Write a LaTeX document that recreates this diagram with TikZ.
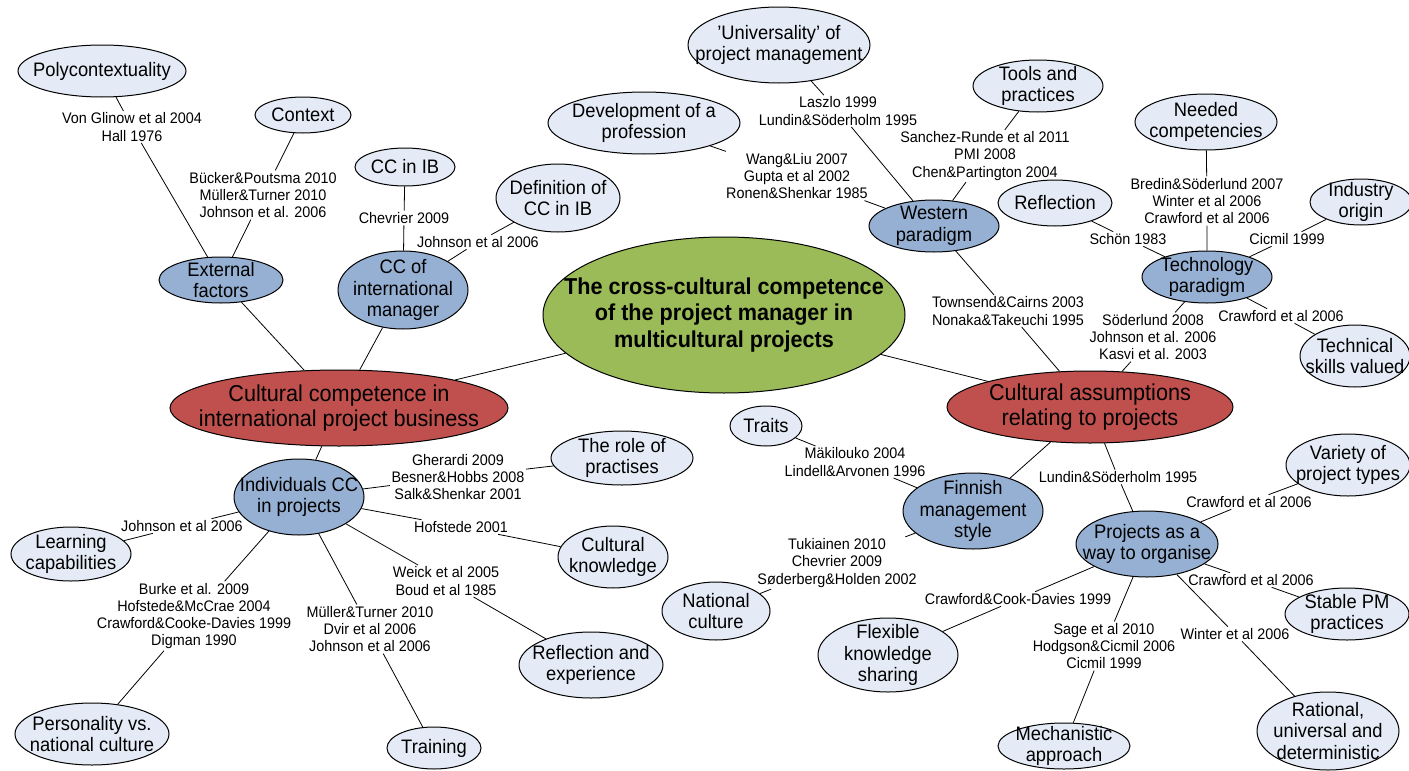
\documentclass[tikz,border=0pt]{standalone}
\usepackage{fontspec}
\setmainfont{Liberation Sans}[FakeStretch=0.94]
\usetikzlibrary{shapes.geometric}
\definecolor{leafc}{HTML}{E4EBF6}
\definecolor{bluec}{HTML}{95B0D2}
\definecolor{redc}{HTML}{C0504D}
\definecolor{greenc}{HTML}{9BBB59}
\tikzset{
 base/.style={ellipse, draw=black, line width=1pt, inner sep=0pt},
 leaf/.style={base, fill=leafc},
 mid/.style={base, fill=bluec},
 topc/.style={base, fill=redc},
 rootc/.style={base, fill=greenc},
 nt/.style={align=center, inner sep=0pt, font=\fontsize{19.5}{21.7}\selectfont},
 rt/.style={align=center, inner sep=0pt, font=\fontsize{23}{25}\selectfont},
 gt/.style={align=center, inner sep=0pt, font=\bfseries\fontsize{23}{26.5}\selectfont},
 cite/.style={align=center, inner sep=1.5pt, font=\fontsize{15.3}{17.3}\selectfont},
 conn/.style={draw=black, line width=0.8pt},
}
\newcommand\bub[7]{\node[#1,minimum width=2*#5pt,minimum height=2*#6pt,label={[#2]center:{#7}}] (#3) at #4 {};}
\begin{document}
\begin{tikzpicture}[x=1pt,y=-1pt]
\useasboundingbox (0,0) rectangle (1409,771);
% root and top level
\bub{rootc}{gt}{main}{(724,315)}{181}{78}{The cross-cultural competence\\of the project manager in\\multicultural projects}
\bub{topc}{rt}{redl}{(339,408)}{169}{38}{Cultural competence in\\international project business}
\bub{topc}{rt}{redr}{(1090,407)}{143}{36}{Cultural assumptions\\relating to projects}
% mid level
\bub{mid}{nt}{ext}{(221,280)}{62}{23}{External\\factors}
\bub{mid}{nt}{ccim}{(403,290)}{65}{39}{CC of\\international\\manager}
\bub{mid}{nt}{west}{(934,226)}{65}{26}{Western\\paradigm}
\bub{mid}{nt}{tech}{(1207,277)}{65}{26}{Technology\\paradigm}
\bub{mid}{nt}{indiv}{(299,497)}{65}{38}{Individuals CC\\in projects}
\bub{mid}{nt}{finn}{(973,511)}{70}{38}{Finnish\\management\\style}
\bub{mid}{nt}{proj}{(1147,544)}{71}{33}{Projects as a\\way to organise}
% leaves
\bub{leaf}{nt}{poly}{(102,71)}{84}{26}{Polycontextuality}
\bub{leaf}{nt}{context}{(303,115)}{48}{18}{Context}
\bub{leaf}{nt}{ccib}{(405,167)}{50}{19}{CC in IB}
\bub{leaf}{nt}{defcc}{(558,198)}{62}{34}{Definition of\\CC in IB}
\bub{leaf}{nt}{univ}{(779,45)}{91}{38}{'Universality' of\\project management}
\bub{leaf}{nt}{devprof}{(644,123)}{96}{31}{Development of a\\profession}
\bub{leaf}{nt}{tools}{(1038,86)}{65}{26}{Tools and\\practices}
\bub{leaf}{nt}{needed}{(1206,122)}{71}{28}{Needed\\competencies}
\bub{leaf}{nt}{refl}{(1055,203)}{57}{23}{Reflection}
\bub{leaf}{nt}{indorig}{(1361,202)}{51}{23}{Industry\\origin}
\bub{leaf}{nt}{techsk}{(1355,356)}{55}{31}{Technical\\skills valued}
\bub{leaf}{nt}{traits}{(766,426)}{36}{20}{Traits}
\bub{leaf}{nt}{role}{(622,458)}{71}{27}{The role of\\practises}
\bub{leaf}{nt}{cultk}{(613,557)}{55}{31}{Cultural\\knowledge}
\bub{leaf}{nt}{reflexp}{(591,665)}{72}{33}{Reflection and\\experience}
\bub{leaf}{nt}{learn}{(71,554)}{60}{27}{Learning\\capabilities}
\bub{leaf}{nt}{pers}{(92,734)}{77}{31}{Personality vs.\\national culture}
\bub{leaf}{nt}{train}{(434,748)}{47}{21}{Training}
\bub{leaf}{nt}{natc}{(716,611)}{54}{29}{National\\culture}
\bub{leaf}{nt}{flex}{(888,655)}{70}{37}{Flexible\\knowledge\\sharing}
\bub{leaf}{nt}{mech}{(1064,746)}{66}{23}{Mechanistic\\approach}
\bub{leaf}{nt}{variety}{(1348,465)}{62}{31}{Variety of\\project types}
\bub{leaf}{nt}{stable}{(1347,614)}{62}{26}{Stable PM\\practices}
\bub{leaf}{nt}{rational}{(1328,731)}{71}{39}{Rational,\\universal and\\deterministic}
% citation labels
\node[cite] (L1) at (132,127) {Von Glinow et al 2004\\Hall 1976};
\node[cite] (L2) at (263,195) {Bücker\&Poutsma 2010\\Müller\&Turner 2010\\Johnson et al. 2006};
\node[cite] (L3) at (404,218) {Chevrier 2009};
\node[cite] (L4) at (478,242) {Johnson et al 2006};
\node[cite] (L5) at (838,111) {Laszlo 1999\\Lundin\&Söderholm 1995};
\node[cite] (L6) at (797,176) {Wang\&Liu 2007\\Gupta et al 2002\\Ronen\&Shenkar 1985};
\node[cite] (L7) at (985,156) {Sanchez-Runde et al 2011\\PMI 2008\\Chen\&Partington 2004};
\node[cite] (L8) at (1008,311) {Townsend\&Cairns 2003\\Nonaka\&Takeuchi 1995};
\node[cite] (L9) at (1153,337) {Söderlund 2008\\Johnson et al. 2006\\Kasvi et al. 2003};
\node[cite] (L10) at (1128,239) {Schön 1983};
\node[cite] (L11) at (1207,201) {Bredin\&Söderlund 2007\\Winter et al 2006\\Crawford et al 2006};
\node[cite] (L12) at (1287,239) {Cicmil 1999};
\node[cite] (L13) at (1281,316) {Crawford et al 2006};
\node[cite] (L14) at (1118,477) {Lundin\&Söderholm 1995};
\node[cite] (L15) at (855,462) {Mäkilouko 2004\\Lindell\&Arvonen 1996};
\node[cite] (L16) at (837,563) {Tukiainen 2010\\Chevrier 2009\\Søderberg\&Holden 2002};
\node[cite] (L17) at (1249,502) {Crawford et al 2006};
\node[cite] (L18) at (1251,580) {Crawford et al 2006};
\node[cite] (L19) at (1235,634) {Winter et al 2006};
\node[cite] (L20) at (1104,646) {Sage et al 2010\\Hodgson\&Cicmil 2006\\Cicmil 1999};
\node[cite] (L21) at (1018,599) {Crawford\&Cook-Davies 1999};
\node[cite] (L22) at (458,477) {Gherardi 2009\\Besner\&Hobbs 2008\\Salk\&Shenkar 2001};
\node[cite] (L23) at (461,527) {Hofstede 2001};
\node[cite] (L24) at (446,581) {Weick et al 2005\\Boud et al 1985};
\node[cite] (L25) at (370,629) {Müller\&Turner 2010\\Dvir et al 2006\\Johnson et al 2006};
\node[cite] (L26) at (194,616) {Burke et al. 2009\\Hofstede\&McCrae 2004\\Crawford\&Cooke-Davies 1999\\Digman 1990};
\node[cite] (L27) at (182,526) {Johnson et al 2006};
% connectors
\draw[conn] (poly) -- (L1) -- (ext);
\draw[conn] (context) -- (L2) -- (ext);
\draw[conn] (ccib) -- (L3) -- (ccim);
\draw[conn] (defcc) -- (L4) -- (ccim);
\draw[conn] (univ) -- (L5) -- (west);
\draw[conn] (devprof) -- (L6) -- (west);
\draw[conn] (tools) -- (L7) -- (west);
\draw[conn] (west) -- (L8) -- (redr);
\draw[conn] (tech) -- (L9) -- (redr);
\draw[conn] (refl) -- (L10) -- (tech);
\draw[conn] (needed) -- (L11) -- (tech);
\draw[conn] (indorig) -- (L12) -- (tech);
\draw[conn] (tech) -- (L13) -- (techsk);
\draw[conn] (redr) -- (L14) -- (proj);
\draw[conn] (traits) -- (L15) -- (finn);
\draw[conn] (finn) -- (L16) -- (natc);
\draw[conn] (proj) -- (L17) -- (variety);
\draw[conn] (proj) -- (L18) -- (stable);
\draw[conn] (proj) -- (L19) -- (rational);
\draw[conn] (proj) -- (L20) -- (mech);
\draw[conn] (proj) -- (L21) -- (flex);
\draw[conn] (indiv) -- (L22) -- (role);
\draw[conn] (indiv) -- (L23) -- (cultk);
\draw[conn] (indiv) -- (L24) -- (reflexp);
\draw[conn] (indiv) -- (L25) -- (train);
\draw[conn] (indiv) -- (L26) -- (pers);
\draw[conn] (indiv) -- (L27) -- (learn);
\draw[conn] (ext) -- (redl);
\draw[conn] (ccim) -- (redl);
\draw[conn] (redl) -- (main);
\draw[conn] (redl) -- (indiv);
\draw[conn] (main) -- (redr);
\draw[conn] (redr) -- (finn);
\end{tikzpicture}
\end{document}
